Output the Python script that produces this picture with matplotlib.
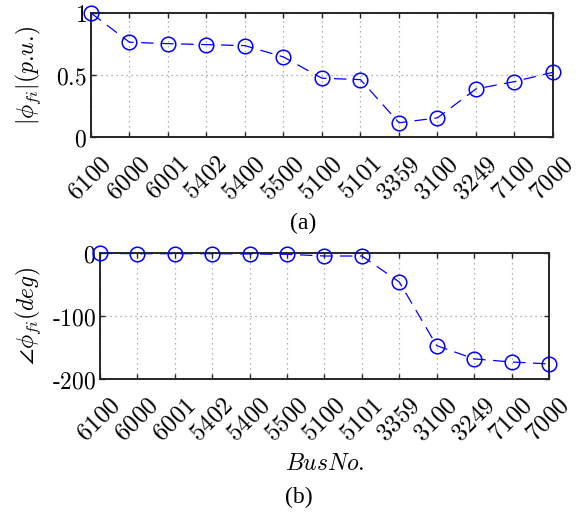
import numpy as np
import matplotlib.pyplot as plt
import matplotlib.transforms as mtransforms
from matplotlib.ticker import FixedLocator, FixedFormatter

plt.rcParams['mathtext.fontset'] = 'cm'
plt.rcParams['font.family'] = ['DejaVu Serif']

# bus numbers along the x axis
buses = ['6100', '6000', '6001', '5402', '5400', '5500', '5100',
         '5101', '3359', '3100', '3249', '7100', '7000']
# magnitude (p.u.)
mag = [1.0, 0.765, 0.754, 0.746, 0.738, 0.647, 0.476,
       0.465, 0.118, 0.158, 0.39, 0.449, 0.524]
# angle (deg)
ang = [-0.5, -1.0, -1.0, -1.0, -1.5, -2.0, -4.7,
       -4.7, -46, -147, -168, -173, -176]

x = np.arange(len(buses))
blue = '#0000ff'
fs = 17


def style(ax, yticks, ylabels, ylim):
    ax.set_xlim(0, len(buses) - 1)
    ax.set_ylim(*ylim)
    ax.xaxis.set_major_locator(FixedLocator(x))
    ax.xaxis.set_major_formatter(FixedFormatter(['$%s$' % b for b in buses]))
    ax.yaxis.set_major_locator(FixedLocator(yticks))
    ax.yaxis.set_major_formatter(FixedFormatter(ylabels))
    ax.grid(True, linestyle=(0, (1, 3)), color='#999999', linewidth=0.9)
    ax.tick_params(direction='in', length=3.5, width=1, color='#262626',
                   labelsize=fs, pad=3, top=True, right=True)
    ax.tick_params(axis='x', labelsize=18)
    # shift rotated labels a bit right and down, like the original
    shift = mtransforms.ScaledTranslation(6.5 / 72, -7.5 / 72, fig.dpi_scale_trans)
    for lab in ax.get_xticklabels():
        lab.set_rotation(45)
        lab.set_ha('right')
        lab.set_va('top')
        lab.set_rotation_mode('anchor')
        lab.set_transform(lab.get_transform() + shift)
    for s in ax.spines.values():
        s.set_linewidth(1.4)
        s.set_color('#262626')


def draw(ax, vals):
    ax.plot(x, vals, linestyle=(0, (10, 6)), color=blue, linewidth=0.9,
            marker='o', markersize=10.5, markerfacecolor='none',
            markeredgecolor=blue, markeredgewidth=1.1, clip_on=False, zorder=3)


fig = plt.figure(figsize=(5.78, 5.14), dpi=100)

ax1 = fig.add_axes([0.1574, 0.7325, 0.7993, 0.2422])
draw(ax1, mag)
style(ax1, [0, 0.5, 1], ['$0$', '$0.5$', '$1$'], (0, 1))
ax1.set_ylabel(r'$|\phi_{fi}|(p\text{.}u\text{.})$', fontsize=fs)
ax1.yaxis.set_label_coords(-0.104, 0.5)

ax2 = fig.add_axes([0.1730, 0.2626, 0.7768, 0.2451])
draw(ax2, ang)
style(ax2, [-200, -100, 0], ['$\\text{-}200$', '$\\text{-}100$', '$0$'], (-200, 0))
ax2.set_ylabel(r'$\angle\phi_{fi}(deg)$', fontsize=fs)
ax2.yaxis.set_label_coords(-0.127, 0.5)
ax2.set_xlabel(r'$BusNo\text{.}$', fontsize=fs)
ax2.xaxis.set_label_coords(0.5, -0.67)
ax2.xaxis.label.set_va('center')

fig.text(303 / 578, 1 - 223 / 514, '(a)', ha='center', va='center',
         fontsize=17, family='Liberation Serif')
fig.text(299 / 578, 1 - 497 / 514, '(b)', ha='center', va='center',
         fontsize=17, family='Liberation Serif')

fig.savefig('out.png', dpi=100)
